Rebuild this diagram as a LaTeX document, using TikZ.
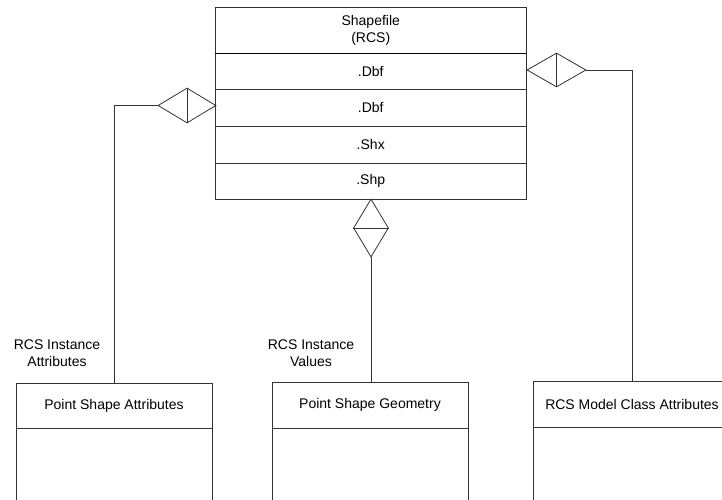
\documentclass[tikz,border=0pt]{standalone}
\usepackage{fontspec}
\setmainfont{Liberation Sans}
\usetikzlibrary{shapes.geometric}
\tikzset{
  ln/.style={draw=black!80, line width=0.8pt},
  comp/.style={ln, minimum width=310.5pt, inner sep=0pt, align=center, font=\fontsize{14}{17}\selectfont},
  cls/.style={ln, inner sep=0pt, align=center, font=\fontsize{14}{17}\selectfont},
  lbl/.style={inner sep=0pt, align=center, font=\fontsize{14}{17}\selectfont},
  agg/.style={ln, diamond, inner sep=0pt, fill=white},
}
\begin{document}
\begin{tikzpicture}[x=1pt,y=-1pt]
\useasboundingbox (0,0) rectangle (722,500);
% top class
\node[comp, minimum height=46pt] (hdr) at (370.75,30) {Shapefile\\(RCS)};
\node[comp, minimum height=36pt] (dbfa) at (370.75,71) {.Dbf};
\node[comp, minimum height=37pt] (dbfb) at (370.75,107.5) {.Dbf};
\node[comp, minimum height=37pt] (shx) at (370.75,144.5) {.Shx};
\node[comp, minimum height=36pt] (shp) at (370.75,181) {.Shp};
\draw[black, line width=1.3pt] (hdr.south west) -- (hdr.south east);
% bottom classes
\node[cls, minimum width=196pt, minimum height=45pt] (ba) at (114,405.5) {Point Shape Attributes};
\node[cls, minimum width=196pt, minimum height=100pt] (bal) at (114,478) {};
\node[cls, minimum width=196pt, minimum height=46pt] (bb) at (370,405) {Point Shape Geometry};
\node[cls, minimum width=196pt, minimum height=100pt] (bbl) at (370,478) {};
\node[cls, minimum width=198pt, minimum height=46pt] (bc) at (632,404) {RCS Model Class Attributes};
\node[cls, minimum width=198pt, minimum height=100pt] (bcl) at (632,477) {};
% labels
\node[lbl] (la) at (57,353.5) {RCS Instance\\Attributes};
\node[lbl] (lb) at (311,353.5) {RCS Instance\\Values};
% diamonds
\node[agg, minimum width=58pt, minimum height=35pt] (ld) at (187,105.5) {};
\node[agg, minimum width=59pt, minimum height=34pt] (rd) at (556.5,70) {};
\node[agg, minimum width=35pt, minimum height=58pt] (bd) at (371,228) {};
\draw[ln] (ld.north) -- (ld.south);
\draw[ln] (rd.north) -- (rd.south);
\draw[ln] (bd.west) -- (bd.east);
% connectors
\draw[ln] (ld.west) -| (ba.north);
\draw[ln] (rd.east) -| (bc.north);
\draw[ln] (bd.south) -- (bd.south |- bb.north);
\end{tikzpicture}
\end{document}
